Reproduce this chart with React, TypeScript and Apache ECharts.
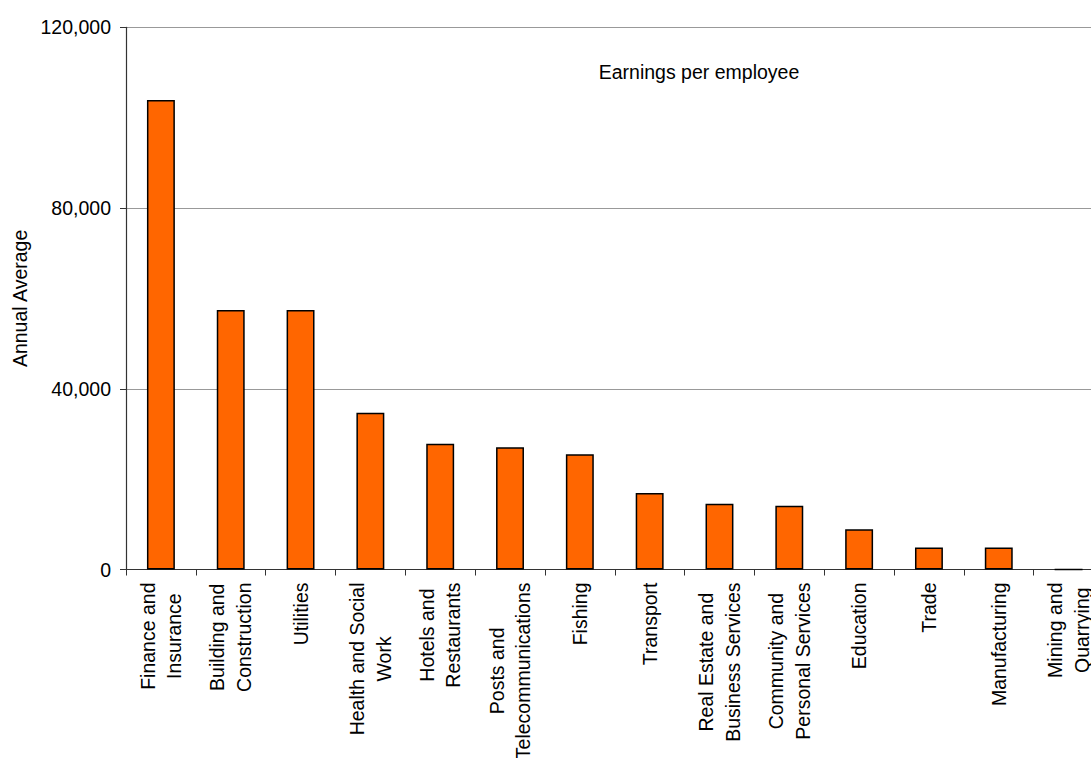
import { useEffect, useRef } from "react";
import * as echarts from "echarts";

const categories = [
  "Finance and\nInsurance",
  "Building and\nConstruction",
  "Utilities",
  "Health and Social\nWork",
  "Hotels and\nRestaurants",
  "Posts and\nTelecommunications",
  "Fishing",
  "Transport",
  "Real Estate and\nBusiness Services",
  "Community and\nPersonal Services",
  "Education",
  "Trade",
  "Manufacturing",
  "Mining and\nQuarrying",
];
const earnings = [103900, 57450, 57450, 34700, 27850, 27050, 25500, 16950, 14550, 14100, 8900, 4850, 4850, 0];
const yTicks = { min: 0, max: 120000, interval: 40000 };

const FONT = "'Liberation Sans', Arial, sans-serif";
const FS = 19.5;

function buildOption(): echarts.EChartsOption {
  return {
    animation: false,
    backgroundColor: "#fff",
    textStyle: { fontFamily: FONT },
    title: {
      text: "Earnings per employee",
      left: 694,
      top: 57,
      textAlign: "center",
      textStyle: { fontFamily: FONT, fontSize: FS, fontWeight: "normal", color: "#000" },
    },
    grid: {
      left: 126,
      top: 27.3,
      right: 1110 - 1103.5,
      bottom: 758 - 569.5,
      containLabel: false,
      outerBoundsMode: "none",
    } as any,
    xAxis: {
      type: "category",
      data: categories,
      boundaryGap: true,
      axisLine: { lineStyle: { color: "#333", width: 1.2 } },
      axisTick: { show: true, length: 6, lineStyle: { color: "#333" } },
      axisLabel: {
        interval: 0,
        rotate: 90,
        margin: 13,
        color: "#000",
        fontFamily: FONT,
        fontSize: FS,
        lineHeight: 26.5,
        formatter: (v: string) => v.split("\n").map((s) => `{c|${s}}`).join("\n"),
        rich: { c: { align: "center", fontFamily: FONT, fontSize: FS, lineHeight: 26.5, color: "#000" } },
      },
    },
    yAxis: {
      type: "value",
      min: yTicks.min,
      max: yTicks.max,
      interval: yTicks.interval,
      name: "Annual Average",
      nameLocation: "middle",
      nameGap: 92,
      nameTextStyle: { fontFamily: FONT, fontSize: FS, color: "#000" },
      axisLine: { show: true, lineStyle: { color: "#333", width: 1.2 } },
      axisTick: { show: true, length: 6, lineStyle: { color: "#333" } },
      axisLabel: {
        margin: 15,
        color: "#000",
        fontFamily: FONT,
        fontSize: FS,
        formatter: (v: number) => v.toLocaleString("en-US"),
      },
      splitLine: { show: true, lineStyle: { color: "#999", width: 1 } },
    },
    series: [
      {
        type: "bar",
        data: earnings,
        barWidth: "40%",
        itemStyle: { color: "#FF6600", borderColor: "#000", borderWidth: 1.5 },
      },
    ],
  };
}

export default function App() {
  const el = useRef<HTMLDivElement>(null);

  useEffect(() => {
    if (!el.current) return;
    const chart = echarts.init(el.current, undefined, { renderer: "svg" });
    chart.setOption(buildOption());
    return () => chart.dispose();
  }, []);

  return (
    <div style={{ position: "fixed", left: 0, top: 0, width: 1091, height: 758, overflow: "hidden", background: "#fff" }}>
      <div ref={el} style={{ width: 1110, height: 758 }} />
    </div>
  );
}
